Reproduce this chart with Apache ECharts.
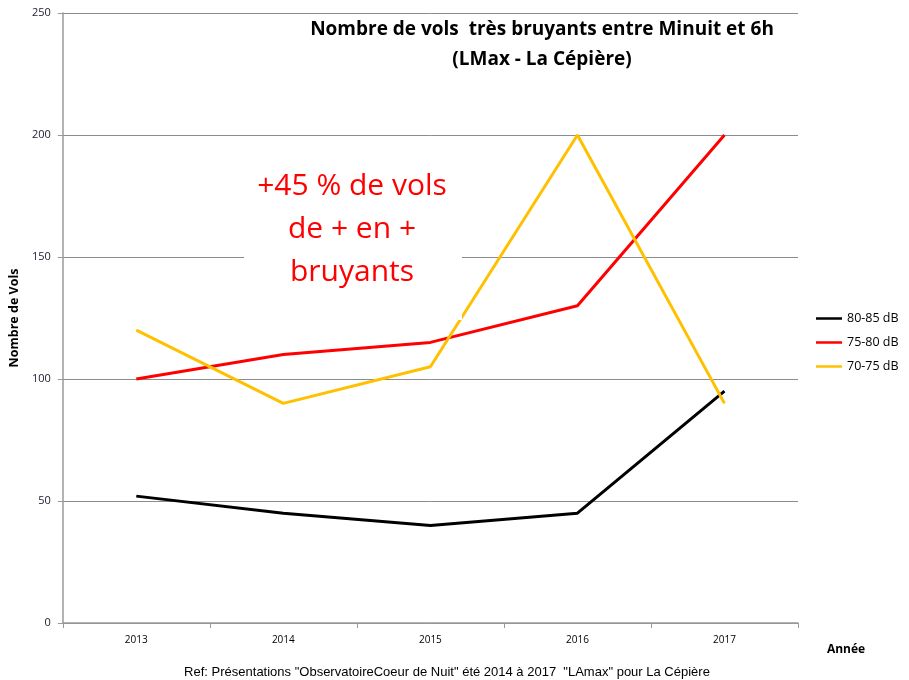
<!DOCTYPE html>
<html><head><meta charset="utf-8">
<script src="https://cdn.jsdelivr.net/npm/echarts@6/dist/echarts.min.js"></script>
<style>html,body{margin:0;padding:0;background:#fff}#c{width:909px;height:680px}</style>
</head><body><div id="c"></div>
<script>
const categories = ['2013','2014','2015','2016','2017'];
const s8085 = [52, 45, 40, 45, 95];
const s7580 = [100, 110, 115, 130, 200];
const s7075 = [120, 90, 105, 200, 90];
const seriesNames = ['80-85 dB','75-80 dB','70-75 dB'];
const yTicks = [0, 50, 100, 150, 200, 250];

const chart = echarts.init(document.getElementById('c'));
const font = '"Open Sans", "Liberation Sans", sans-serif';
chart.setOption({
  animation: false,
  backgroundColor: '#fff',
  grid: {left: 62, right: 111, top: 13, bottom: 57},
  title: {
    text: 'Nombre de vols  très bruyants entre Minuit et 6h\n(LMax - La Cépière)',
    left: 537, top: 10, textAlign: 'center',
    textStyle: {fontFamily: font, fontSize: 19, fontWeight: 'bold', color: '#000', lineHeight: 30}
  },
  legend: {
    orient: 'vertical', left: 811, top: 307, itemGap: 11,
    itemWidth: 26, itemHeight: 14, icon: 'path://M0,6 L26,6 L26,8.5 L0,8.5 Z',
    textStyle: {fontFamily: font, fontSize: 12.5, color: '#000'},
    data: seriesNames
  },
  xAxis: {
    type: 'category', data: categories, boundaryGap: true,
    axisLine: {lineStyle: {color: '#9a9a9a', width: 1.5}},
    axisTick: {show: true, alignWithLabel: false, length: 5, lineStyle: {color: '#9a9a9a'}},
    axisLabel: {fontFamily: font, fontSize: 10, color: '#000', margin: 12}
  },
  yAxis: {
    type: 'value', min: 0, max: 250, interval: 50,
    name: 'Nombre de Vols', nameLocation: 'middle', nameGap: 40, nameRotate: 90,
    nameTextStyle: {fontFamily: font, fontSize: 12.5, fontWeight: 'bold', color: '#000'},
    axisLine: {show: true, lineStyle: {color: '#9a9a9a', width: 1.5}},
    axisTick: {show: true, length: 5, lineStyle: {color: '#9a9a9a'}},
    axisLabel: {fontFamily: font, fontSize: 11, color: '#1a1a2e', margin: 12},
    splitLine: {lineStyle: {color: '#8c8c8c', width: 1}}
  },
  graphic: [{
    type: 'rect', z: 100, shape: {x: 244, y: 160, width: 218, height: 160},
    style: {fill: '#fff'}
  }, {
    type: 'text', z: 101, x: 352, y: 165,
    style: {text: '+45 % de vols\nde + en +\nbruyants', fill: '#ff0000', align: 'center',
      fontFamily: font, fontSize: 30, lineHeight: 43}
  }, {
    type: 'text', z: 101, x: 846, y: 644,
    style: {text: 'Année', fill: '#000', align: 'center',
      fontFamily: font, fontSize: 12, fontWeight: 'bold'}
  }, {
    type: 'text', z: 101, x: 447, y: 666,
    style: {text: 'Ref: Présentations "ObservatoireCoeur de Nuit" été 2014 à 2017  "LAmax" pour La Cépière',
      fill: '#000', align: 'center', fontFamily: '"Liberation Sans Narrow", "Liberation Sans", sans-serif', fontSize: 13}
  }],
  series: [
    {name: seriesNames[0], type: 'line', data: s8085, showSymbol: false, symbol: 'none',
      lineStyle: {color: '#000', width: 3}, itemStyle: {color: '#000'}},
    {name: seriesNames[1], type: 'line', data: s7580, showSymbol: false, symbol: 'none',
      lineStyle: {color: '#ff0000', width: 3}, itemStyle: {color: '#ff0000'}},
    {name: seriesNames[2], type: 'line', data: s7075, showSymbol: false, symbol: 'none',
      lineStyle: {color: '#ffc000', width: 3}, itemStyle: {color: '#ffc000'}}
  ]
});
</script></body></html>
